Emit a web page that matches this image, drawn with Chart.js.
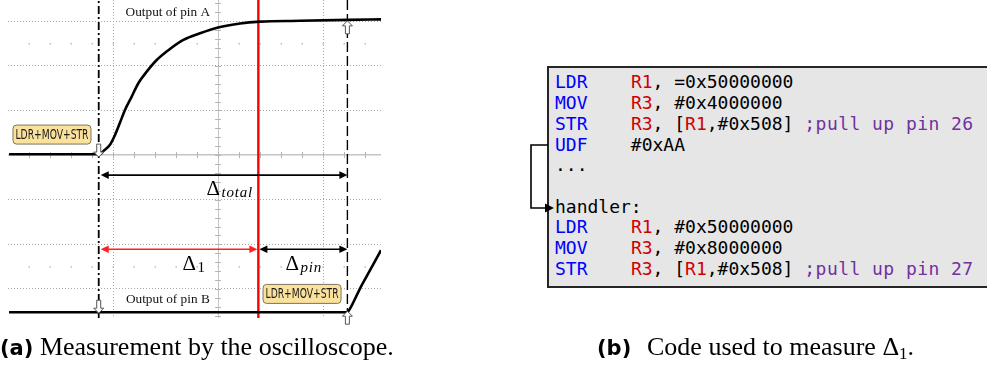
<!DOCTYPE html>
<html>
<head>
<meta charset="utf-8">
<script src="https://cdn.jsdelivr.net/npm/chart.js@4.4.1/dist/chart.umd.min.js"></script>
<style>
  html, body { margin: 0; padding: 0; background: #fff; }
  body { width: 987px; height: 365px; overflow: hidden; position: relative; }
  #scope { position: absolute; left: 0; top: 0; }
  .code { position: absolute; left: 547px; top: 66px; width: 470px; height: 218px;
          background: #e6e6e6; border: 2px solid #262626; }
  .code pre { margin: 0; position: absolute; left: 6px; top: 4.4px; color: #000;
              font: 18px/20.7px "DejaVu Sans Mono", monospace; }
  .k { color: #0000ff; }
  .r { color: #d00000; }
  .c { color: #7030a0; letter-spacing: 0.45px; }
  .cap { position: absolute; top: 332px; font: 26px/30px "Liberation Serif", serif; color: #000; white-space: nowrap; }
  .cap b { font: bold 21px/30px "DejaVu Sans", sans-serif; }
  .cap sub { font-size: 17px; vertical-align: -4px; line-height: 0; }
  #jump { position: absolute; left: 0; top: 0; }
</style>
</head>
<body>
<canvas id="scope" width="395" height="325"></canvas>

<div class="code"><pre><span class="k">LDR</span>    <span class="r">R1</span>, =0x50000000
<span class="k">MOV</span>    <span class="r">R3</span>, #0x4000000
<span class="k">STR</span>    <span class="r">R3</span>, [<span class="r">R1</span>,#0x508] <span class="c">;pull up pin 26</span>
<span class="k">UDF</span>    #0xAA
...

handler:
<span class="k">LDR</span>    <span class="r">R1</span>, #0x50000000
<span class="k">MOV</span>    <span class="r">R3</span>, #0x8000000
<span class="k">STR</span>    <span class="r">R3</span>, [<span class="r">R1</span>,#0x508] <span class="c">;pull up pin 27</span></pre></div>

<svg id="jump" width="987" height="365">
  <polyline points="548,145 531,145 531,208 545,208" fill="none" stroke="#000" stroke-width="1.6"/>
  <polygon points="554,208 545,203.5 545,212.5" fill="#000"/>
</svg>

<div class="cap" style="left:0px"><b>(a)</b> Measurement by the oscilloscope.</div>
<div class="cap" style="left:597px"><b>(b)</b></div>
<div class="cap" style="left:647px">Code used to measure Δ<sub>1</sub>.</div>

<script>
// time axis in divisions, voltage in divisions (0 = centre line)
const pinATime = [0.01, 0.876, 0.908, 0.971, 1.019, 1.067, 1.114, 1.178, 1.241, 1.321, 1.416, 1.527, 1.67, 1.829, 2.0, 2.21, 2.4, 2.78, 3.232, 3.552];
const pinAVolt = [0.02, 0.02, 0.09, 0.23, 0.45, 0.73, 1.01, 1.31, 1.61, 1.87, 2.13, 2.35, 2.58, 2.73, 2.86, 2.95, 2.99, 3.01, 3.03, 3.04];

const pinBTime = [0.01, 3.232, 3.257, 3.352, 3.448, 3.552];
const pinBVolt = [-3.52, -3.52, -3.44, -2.99, -2.58, -2.13];

// cursor positions (divisions)
const tTrigger = 0.864;
const tCursor = 2.384;
const tPinB = 3.232;

const xMax = 3.552, yMin = -3.65, yMax = 3.475;

const toPts = (xs, ys) => xs.map((t, i) => ({ x: t, y: ys[i] }));
const vline = t => [{ x: t, y: yMin }, { x: t, y: yMax }];

function hollowArrow(ctx, px, py, dir) {
  // dir 1: points down onto py, -1: points up onto py
  ctx.beginPath();
  ctx.moveTo(px, py);
  ctx.lineTo(px - 5, py - 5 * dir);
  ctx.lineTo(px - 2, py - 5 * dir);
  ctx.lineTo(px - 2, py - 13 * dir);
  ctx.lineTo(px + 2, py - 13 * dir);
  ctx.lineTo(px + 2, py - 5 * dir);
  ctx.lineTo(px + 5, py - 5 * dir);
  ctx.closePath();
  ctx.fillStyle = '#fff';
  ctx.fill();
  ctx.strokeStyle = '#555';
  ctx.lineWidth = 1;
  ctx.stroke();
}

function dimArrow(ctx, x1, x2, py, color) {
  ctx.strokeStyle = color;
  ctx.fillStyle = color;
  ctx.lineWidth = 1.6;
  ctx.beginPath();
  ctx.moveTo(x1 + 5, py);
  ctx.lineTo(x2 - 5, py);
  ctx.stroke();
  ctx.beginPath();
  ctx.moveTo(x1, py); ctx.lineTo(x1 + 8, py - 3.8); ctx.lineTo(x1 + 8, py + 3.8); ctx.closePath();
  ctx.fill();
  ctx.beginPath();
  ctx.moveTo(x2, py); ctx.lineTo(x2 - 8, py - 3.8); ctx.lineTo(x2 - 8, py + 3.8); ctx.closePath();
  ctx.fill();
}

function delta(ctx, px, py, sub, italic) {
  ctx.fillStyle = '#000';
  ctx.textAlign = 'left';
  ctx.textBaseline = 'alphabetic';
  ctx.font = '21px "Liberation Serif", serif';
  ctx.fillText('Δ', px, py);
  ctx.font = (italic ? 'italic ' : '') + '15px "Liberation Serif", serif';
  ctx.letterSpacing = italic ? '0.8px' : '0px';
  ctx.fillText(sub, px + 15, py + 2);
  ctx.letterSpacing = '0px';
}

function tagBox(ctx, cx, cy) {
  const w = 78, h = 19;
  ctx.beginPath();
  ctx.roundRect(cx - w / 2, cy - h / 2, w, h, 3.5);
  ctx.fillStyle = '#fbe29c';
  ctx.fill();
  ctx.strokeStyle = '#7d7560';
  ctx.lineWidth = 1;
  ctx.stroke();
  ctx.fillStyle = '#1a1a1a';
  ctx.font = '14px "DejaVu Sans", sans-serif';
  ctx.textAlign = 'center';
  ctx.textBaseline = 'middle';
  ctx.fillText('LDR+MOV+STR', cx, cy + 0.5, w - 5);
}

const scopeDeco = {
  id: 'scopeDeco',
  beforeDatasetsDraw(chart) {
    const { ctx, scales: { x, y } } = chart;
    const cx = x.getPixelForValue(2), cy = y.getPixelForValue(0);
    ctx.save();
    ctx.strokeStyle = '#b5b5b5';
    ctx.lineWidth = 1;
    ctx.beginPath();
    for (let v = -3.6; v <= yMax; v += 0.2) {
      const py = Math.round(y.getPixelForValue(v)) + 0.5;
      ctx.moveTo(cx - 3, py); ctx.lineTo(cx + 3, py);
    }
    for (let v = 0.2; v <= xMax; v += 0.2) {
      const px = Math.round(x.getPixelForValue(v)) + 0.5;
      ctx.moveTo(px, cy - 3); ctx.lineTo(px, cy + 3);
    }
    ctx.stroke();
    ctx.fillStyle = '#bdbdbd';
    [2.5, -2.5].forEach(r => {
      const py = y.getPixelForValue(r);
      for (let v = 0.2; v <= xMax; v += 0.2) {
        ctx.fillRect(Math.round(x.getPixelForValue(v)) - 0.5, py - 0.5, 1.5, 1.5);
      }
    });
    ctx.restore();
  },
  afterDatasetsDraw(chart) {
    const { ctx, scales: { x, y } } = chart;
    const X = v => x.getPixelForValue(v), Y = v => y.getPixelForValue(v);
    ctx.save();

    // trigger markers
    hollowArrow(ctx, X(tTrigger), Y(0) + 2, 1);
    hollowArrow(ctx, X(tPinB), Y(pinAVolt[pinAVolt.length - 2]) + 1, -1);
    hollowArrow(ctx, X(tTrigger), Y(-3.52) + 1, 1);
    hollowArrow(ctx, X(tPinB), Y(-3.52) - 1, -1);

    // dimension arrows
    const yTotal = Y(-0.448), yLow = Y(-2.108);
    dimArrow(ctx, X(tTrigger) + 2, X(tPinB), yTotal, '#000');
    dimArrow(ctx, X(tTrigger) + 2, X(tCursor) - 1, yLow, '#ff2020');
    dimArrow(ctx, X(tCursor) + 1, X(tPinB), yLow, '#000');

    delta(ctx, X(1.89), yTotal + 20, 'total', true);
    delta(ctx, X(1.662), yLow + 21, '1', false);
    delta(ctx, X(2.643), yLow + 21, 'pin', true);

    // channel names
    ctx.fillStyle = '#111';
    ctx.font = '13.3px "Liberation Serif", serif';
    ctx.textAlign = 'center';
    ctx.textBaseline = 'alphabetic';
    ctx.fillText('Output of pin A', X(1.522), Y(3.117));
    ctx.fillText('Output of pin B', X(1.522), Y(-3.31));

    tagBox(ctx, X(0.419), Y(0.46));
    tagBox(ctx, X(2.8), Y(-3.11));
    ctx.restore();
  }
};

new Chart(document.getElementById('scope'), {
  type: 'line',
  data: {
    datasets: [
      {
        data: vline(tTrigger), borderColor: '#000', borderWidth: 1.8,
        borderDash: [8, 3, 2, 3], pointRadius: 0
      },
      {
        data: vline(tPinB), borderColor: '#000', borderWidth: 1.4,
        borderDash: [10, 4], pointRadius: 0
      },
      {
        data: toPts(pinATime, pinAVolt), borderColor: '#000', borderWidth: 2.6,
        cubicInterpolationMode: 'monotone', pointRadius: 0
      },
      {
        data: toPts(pinBTime, pinBVolt), borderColor: '#000', borderWidth: 2.6,
        cubicInterpolationMode: 'monotone', pointRadius: 0
      },
      {
        data: vline(tCursor), borderColor: '#ff0000', borderWidth: 2.4, pointRadius: 0
      }
    ]
  },
  options: {
    responsive: false,
    animation: false,
    events: [],
    layout: { padding: { left: 8, right: 14, top: 0, bottom: 7 } },
    plugins: { legend: { display: false }, tooltip: { enabled: false } },
    scales: {
      x: {
        type: 'linear', min: 0, max: xMax,
        ticks: { display: false, stepSize: 1 },
        border: { display: false, dash: c => (c.tick && c.tick.value === 2) ? [] : [1, 2] },
        grid: {
          drawTicks: false,
          lineWidth: 1,
          color: c => {
            const v = c.tick && c.tick.value;
            if (!Number.isInteger(v) || v < 1 || v > 3) return 'rgba(0,0,0,0)';
            return v === 2 ? '#c4c4c4' : '#a8a8a8';
          }
        }
      },
      y: {
        type: 'linear', min: yMin, max: yMax,
        ticks: { display: false, stepSize: 1 },
        border: { display: false, dash: c => (c.tick && c.tick.value === 0) ? [] : [1, 2] },
        grid: {
          drawTicks: false,
          lineWidth: c => (c.tick && c.tick.value === 0) ? 1.6 : 1,
          color: c => {
            const v = c.tick && c.tick.value;
            if (!Number.isInteger(v)) return 'rgba(0,0,0,0)';
            return v === 0 ? '#c4c4c4' : '#a8a8a8';
          }
        }
      }
    }
  },
  plugins: [scopeDeco]
});
</script>
</body>
</html>
